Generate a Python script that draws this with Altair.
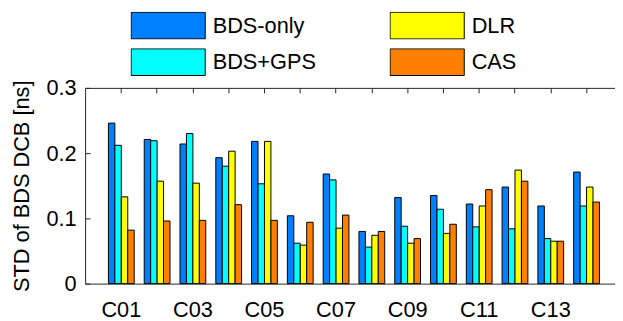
import altair as alt
import pandas as pd

sats = ["C01", "C02", "C03", "C04", "C05", "C06", "C07",
        "C08", "C09", "C10", "C11", "C12", "C13", "C14"]
tick_labels = ["C01", "C03", "C05", "C07", "C09", "C11", "C13"]
series = ["BDS-only", "BDS+GPS", "DLR", "CAS"]
colors = ["#0080FF", "#00FFFF", "#FFFF00", "#FF8000"]

bds_only = [0.246, 0.221, 0.214, 0.193, 0.218, 0.104, 0.168,
            0.080, 0.132, 0.135, 0.122, 0.148, 0.119, 0.171]
bds_gps = [0.212, 0.219, 0.230, 0.180, 0.153, 0.062, 0.159,
           0.056, 0.088, 0.114, 0.087, 0.084, 0.069, 0.119]
dlr = [0.133, 0.157, 0.154, 0.203, 0.218, 0.059, 0.085,
       0.074, 0.062, 0.077, 0.119, 0.174, 0.065, 0.148]
cas = [0.082, 0.096, 0.097, 0.121, 0.097, 0.094, 0.105,
       0.080, 0.069, 0.091, 0.144, 0.157, 0.065, 0.125]
y_ticks = [0, 0.1, 0.2, 0.3]

rows = []
for name, vals in zip(series, [bds_only, bds_gps, dlr, cas]):
    for s, v in zip(sats, vals):
        rows.append({"sat": s, "series": name, "value": v})
df = pd.DataFrame(rows)

FONT = "Liberation Sans"
AX = "#262626"


def xscale():
    return alt.Scale(paddingInner=0.28, paddingOuter=0.543, align=0.6)


def yscale():
    return alt.Scale(domain=[0, 0.3], nice=False, zero=True)


base = alt.Chart(df)

bars = base.mark_bar(stroke="black", strokeWidth=1, opacity=1).encode(
    x=alt.X("sat:N", sort=sats, scale=xscale(),
            axis=alt.Axis(orient="bottom", values=tick_labels, ticks=False,
                          domain=True, labelAngle=0, labelPadding=16,
                          title=None)),
    xOffset=alt.XOffset("series:N", sort=series,
                        scale=alt.Scale(paddingInner=0, paddingOuter=0)),
    y=alt.Y("value:Q", scale=yscale(),
            axis=alt.Axis(orient="left", values=y_ticks, format="~g",
                          ticks=False, grid=False, domain=True,
                          labelPadding=9, title="STD of BDS DCB [ns]",
                          titleX=-52, titleY=99)),
    color=alt.Color("series:N",
                    scale=alt.Scale(domain=series, range=colors),
                    legend=alt.Legend(
                        orient="none", legendX=46,
                        legendY=-77, columns=2, title=None,
                        symbolType="M-1,-0.36L1,-0.36L1,0.36L-1,0.36Z",
                        symbolSize=5625, symbolStrokeColor="black",
                        symbolStrokeWidth=1, symbolOpacity=1,
                        clipHeight=28, rowPadding=9, columnPadding=74,
                        labelOffset=7, labelFontSize=22, labelFont=FONT,
                        labelColor="black", labelLimit=0, padding=0)),
)

border = base.mark_bar(opacity=0).encode(
    x=alt.X("sat:N", sort=sats, scale=xscale(),
            axis=alt.Axis(orient="top", labels=False, ticks=False,
                          domain=True, title=None)),
    y=alt.Y("value:Q", scale=yscale(), axis=None),
)

inner_ticks = base.mark_bar(opacity=0).encode(
    x=alt.X("sat:N", sort=sats, scale=xscale(),
            axis=alt.Axis(orient="top", offset=-5, labels=False, ticks=True,
                          tickSize=5, domain=False, title=None)),
    y=alt.Y("value:Q", scale=yscale(),
            axis=alt.Axis(orient="left", offset=-5, values=y_ticks,
                          labels=False, ticks=True, tickSize=5,
                          domain=False, grid=False, title=None)),
)

chart = alt.layer(bars, border, inner_ticks).resolve_axis(
    x="independent", y="independent"
).properties(
    width=536, height=198,
    autosize=alt.AutoSizeParams(type="none"),
    padding={"left": 78, "top": 79, "right": 0, "bottom": 36},
).configure_view(stroke=None).configure_axis(
    labelFont=FONT, titleFont=FONT, labelFontSize=22, titleFontSize=22,
    labelColor="black", titleColor="black", titleFontWeight="normal",
    domainColor=AX, tickColor=AX, domainWidth=1, tickWidth=1,
)

chart.save("out.html", embed_options={"renderer": "svg", "actions": False})
